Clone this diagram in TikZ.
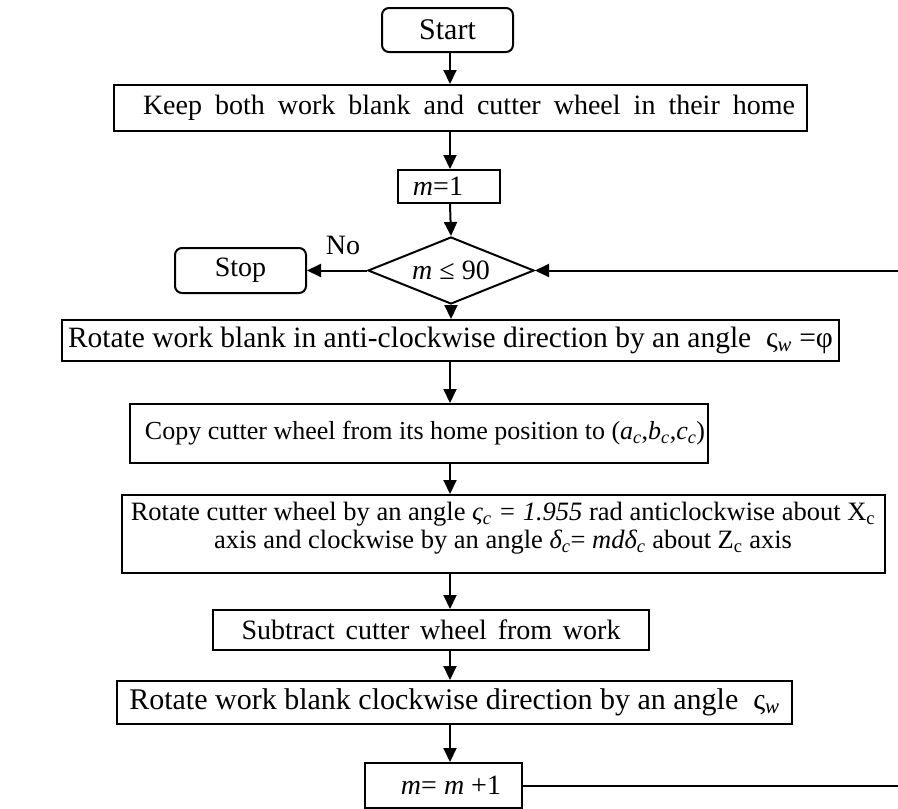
\documentclass[tikz,border=0pt]{standalone}
\usepackage{fontspec}
\setmainfont{Liberation Serif}
\usetikzlibrary{shapes.geometric,arrows.meta}
\newcommand{\fsz}[1]{\fontsize{#1}{28}\selectfont}
\begin{document}
\begin{tikzpicture}[x=1pt,y=-1pt,
  txt/.style={font=\fsz{28}},
  box/.style={draw,line width=2pt,inner sep=0pt,txt},
  term/.style={box,rounded corners=7pt},
  arr/.style={line width=2pt,-{Triangle[length=14pt,width=13pt]}},
  ln/.style={line width=2pt}]
\useasboundingbox (0,0) rectangle (898,809);
\coordinate (sp) at (450,0);
\node[term,minimum width=131pt,minimum height=44pt,font=\fsz{30}] (start) at (447.5,30) {Start};
\node[box,minimum width=693pt,minimum height=46pt] (keep) at (460.5,108) {\hspace*{17pt}\makebox[652pt][s]{Keep both work blank and cutter wheel in their home}};
\node[box,minimum width=102pt,minimum height=33pt] (m1) at (449,186.5) {\textit{m}=1\hspace*{22pt}};
\node[draw,diamond,line width=2pt,inner sep=0pt,minimum width=166pt,minimum height=67pt,aspect=2.5,txt] (dec) at (451,270.5) {\textit{m} ≤ 90};
\node[term,minimum width=131pt,minimum height=45pt] (stop) at (240.5,270.5) {Stop};
\node[txt] (no) at (343,245) {No};
\node[box,minimum width=777pt,minimum height=41pt,font=\fsz{29.5}] (rw) at (450.5,340.5) {Rotate work blank in anti-clockwise direction by an angle\ \ ς\textsubscript{\textit{w}} =φ};
\node[box,minimum width=578pt,minimum height=59pt,font=\fsz{26}] (copy) at (419,433.5) {\hspace*{12pt}Copy cutter wheel from its home position to (\textit{a}\textsubscript{\textit{c}},\textit{b}\textsubscript{\textit{c}},\textit{c}\textsubscript{\textit{c}})};
\node[box,minimum width=763pt,minimum height=78pt] (rc) at (503.5,534) {};
\node[align=center,inner sep=0pt,font=\fsz{26.5}] (rctext) at (503,528) {Rotate cutter wheel by an angle \textit{ς\textsubscript{c} = 1.955} rad anticlockwise about X\textsubscript{c}\\axis and clockwise by an angle \textit{δ\textsubscript{c}}= \textit{mdδ\textsubscript{c}} about Z\textsubscript{c} axis};
\node[box,minimum width=436pt,minimum height=40pt] (sub) at (431,630) {\makebox[379pt][s]{Subtract cutter wheel from work}};
\node[box,minimum width=675pt,minimum height=43pt,font=\fsz{30}] (rwb) at (454.5,702.5) {Rotate work blank clockwise direction by an angle\ \ ς\textsubscript{\textit{w}}};
\node[box,minimum width=157pt,minimum height=45pt] (inc) at (443.5,785.5) {\hspace*{15pt}\textit{m}= \textit{m} +1};
\coordinate (re1) at (898,785.5);
\coordinate (re2) at (898,270.5);
\draw[arr] (start.south -| sp) -- (keep.north -| sp);
\draw[arr] (keep.south -| sp) -- (m1.north -| sp);
\draw[arr] (m1.south -| sp) -- (dec.north);
\draw[arr] (dec.west) -- (stop.east);
\draw[arr] (dec.south) -- (rw.north -| dec.south);
\draw[arr] (rw.south -| sp) -- (copy.north -| sp);
\draw[arr] (copy.south -| sp) -- (rc.north -| sp);
\draw[arr] (rc.south -| sp) -- (sub.north -| sp);
\draw[arr] (sub.south -| sp) -- (rwb.north -| sp);
\draw[arr] (rwb.south -| sp) -- (inc.north -| sp);
\draw[ln] (inc.east) -- (re1);
\draw[arr] (re2) -- (dec.east);
\end{tikzpicture}
\end{document}
